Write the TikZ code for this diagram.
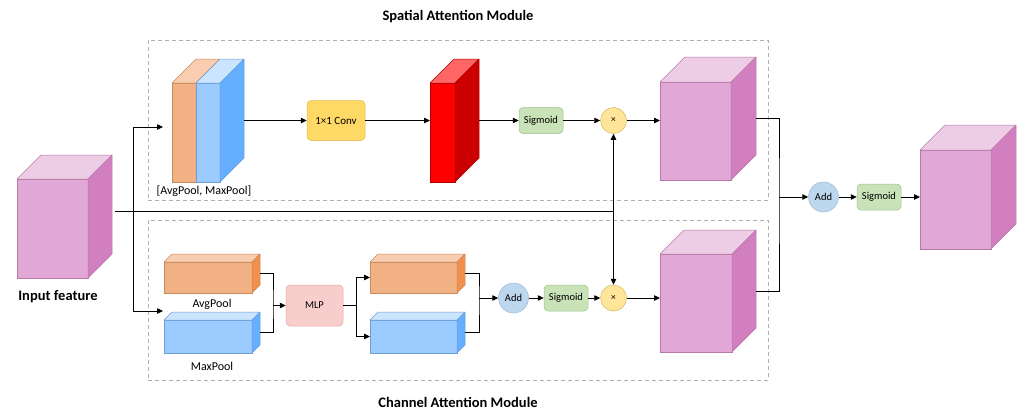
\documentclass[tikz,border=0pt]{standalone}
\usepackage{fontspec}
\setmainfont{Carlito}
\usetikzlibrary{arrows.meta}

\definecolor{pinkF}{HTML}{E1A7D6}
\definecolor{pinkS}{HTML}{D27FC0}
\definecolor{pinkT}{HTML}{EDCDE6}
\definecolor{pinkB}{HTML}{B77AA6}
\definecolor{oraF}{HTML}{F2B185}
\definecolor{oraS}{HTML}{F0904C}
\definecolor{oraT}{HTML}{F8CDB0}
\definecolor{oraB}{HTML}{C98A5E}
\definecolor{bluF}{HTML}{9CCBFF}
\definecolor{bluS}{HTML}{66AEFF}
\definecolor{bluT}{HTML}{CCE5FF}
\definecolor{bluB}{HTML}{6C9FD6}
\definecolor{redF}{HTML}{FF0000}
\definecolor{redS}{HTML}{CC0000}
\definecolor{redT}{HTML}{FF6666}
\definecolor{redB}{HTML}{B20000}
\definecolor{convF}{HTML}{FFD966}
\definecolor{convB}{HTML}{E0B850}
\definecolor{sigF}{HTML}{C9E2B8}
\definecolor{sigB}{HTML}{9CC38A}
\definecolor{mlpF}{HTML}{F8CECC}
\definecolor{mlpB}{HTML}{E6A6A6}
\definecolor{mulF}{HTML}{FFE599}
\definecolor{mulB}{HTML}{D6B656}
\definecolor{addF}{HTML}{BDD7EE}
\definecolor{addB}{HTML}{9DB9D6}
\definecolor{frame}{HTML}{B0B0B0}

% cuboid: name, centre of front face, width, height, depth, colour set
\newcommand\cuboid[6]{%
  \node[cubefront, fill=#6F, draw=#6B, minimum width=#3pt, minimum height=#4pt] (#1) at (#2) {};
  \filldraw[fill=#6T, draw=#6B, line width=.5pt, line join=round]
    (#1.north west) -- ++(#5,-#5) -- ++(#3,0) -- (#1.north east) -- cycle;
  \filldraw[fill=#6S, draw=#6B, line width=.5pt, line join=round]
    (#1.north east) -- ++(#5,-#5) -- ++(0,#4) -- (#1.south east) -- cycle;
  \coordinate (#1-r) at ([shift={(#5,-#5/2)}]#1.east);
}

\tikzset{
  cubefront/.style={line width=.5pt, inner sep=0pt, outer sep=0pt},
  lbl/.style={font=\fontsize{12}{14}\selectfont, inner sep=0pt},
  title/.style={font=\fontsize{14.5}{17}\selectfont\bfseries, inner sep=0pt},
  opbox/.style={rounded corners=4pt, line width=.5pt, inner sep=0pt,
    minimum width=44pt, minimum height=26pt, font=\fontsize{10.5}{12}\selectfont},
  sigbox/.style={opbox, fill=sigF, draw=sigB},
  mulnode/.style={circle, fill=mulF, draw=mulB, line width=.5pt, minimum size=26pt,
    inner sep=0pt, font=\fontsize{9.5}{10}\selectfont},
  addnode/.style={circle, fill=addF, draw=addB, line width=.5pt, minimum size=30pt,
    inner sep=0pt, font=\fontsize{10.5}{12}\selectfont},
  module/.style={draw=frame, dash pattern=on 4pt off 3pt, line width=.6pt,
    minimum width=620pt, minimum height=160pt, inner sep=0pt},
  link/.style={line width=.8pt, draw=black},
  arr/.style={link, -{Triangle[length=6pt, width=5.5pt]}},
}

\begin{document}
\begin{tikzpicture}[x=1pt, y=-1pt]
\useasboundingbox (0,0) rectangle (1021,410);

% module frames and titles
\node[module] (sam) at (458,120) {};
\node[module] (cam) at (458,300) {};
\node[title] (samT) at (458,17) {Spatial Attention Module};
\node[title] (camT) at (458,402) {Channel Attention Module};

% input feature map
\cuboid{in}{52.5,228.5}{71}{99}{24}{pink}
\node[title] (inT) at (58,297) {Input feature};

% spatial branch
\cuboid{cat}{184,132.5}{24}{99}{24}{ora}
\cuboid{catb}{208,132.5}{24}{99}{24}{blu}
\node[lbl] (catT) at (204,191) {[AvgPool, MaxPool]};
\node[opbox, fill=convF, draw=convB, minimum width=58pt, minimum height=40pt,
  font=\fontsize{11}{12}\selectfont] (conv) at (336,120.5) {1×1 Conv};
\cuboid{red}{442.5,132.5}{25}{99}{24}{red}
\node[sigbox] (sig1) at (541,120.5) {Sigmoid};
\node[mulnode] (mul1) at (613.5,120.5) {×};
\cuboid{outA}{695.5,131}{71}{98}{25}{pink}

% channel branch
\cuboid{avg}{208,277.5}{88}{31}{8}{ora}
\node[lbl] (avgT) at (212,304) {AvgPool};
\cuboid{max}{208,336.5}{88}{33}{8}{blu}
\node[lbl] (maxT) at (212,366) {MaxPool};
\node[opbox, fill=mlpF, draw=mlpB, minimum width=57pt, minimum height=41pt] (mlp) at (314.5,305.5) {MLP};
\cuboid{fa}{413.5,277.5}{87}{31}{8}{ora}
\cuboid{fm}{413.5,336.5}{87}{33}{8}{blu}
\node[addnode] (add2) at (513.5,298) {Add};
\node[sigbox] (sig2) at (566,298) {Sigmoid};
\node[mulnode] (mul2) at (613.5,298) {×};
\cuboid{outB}{696,303}{72}{98}{24}{pink}

% fusion
\node[addnode] (add3) at (823.5,197) {Add};
\node[sigbox] (sig3) at (879,197) {Sigmoid};
\cuboid{fin}{955.5,199.5}{71}{99}{25}{pink}

% junction points
\coordinate (src) at (115,211);
\coordinate (split) at (133,211);
\coordinate (gate) at (613.5,211);
\coordinate (topin) at (163,127);
\coordinate (botin) at (163,311);
\coordinate (mj) at (273,305.5);
\coordinate (ms) at (356,305.5);
\coordinate (aj) at (479,298);
\coordinate (rv) at (779,197);

% input distribution
\draw[link] (src) -- (gate);
\draw[arr] (split) |- (topin);
\draw[arr] (split) |- (botin);
\draw[arr] (gate) -- (mul1);
\draw[arr] (gate) -- (mul2);

% spatial flow
\draw[arr] (catb-r) -- (catb-r -| conv.west);
\draw[arr] (conv) -- (conv -| red.west);
\draw[arr] (red-r) -- (red-r -| sig1.west);
\draw[arr] (sig1) -- (mul1);
\draw[arr] (mul1) -- (mul1 -| outA.west);

% channel flow
\draw[link] (avg-r) -| (mj) |- (max-r);
\draw[arr] (mj) -- (mlp);
\draw[link] (mlp) -- (ms);
\draw[arr] (ms) |- (fa.west);
\draw[arr] (ms) |- (fm.west);
\draw[link] (fa-r) -| (aj) |- (fm-r);
\draw[arr] (aj) -- (add2);
\draw[arr] (add2) -- (sig2);
\draw[arr] (sig2) -- (mul2);
\draw[arr] (mul2) -- (mul2 -| outB.west);

% fusion flow
\draw[link] (outA-r) -| (rv) |- (outB-r);
\draw[arr] (rv) -- (add3);
\draw[arr] (add3) -- (sig3);
\draw[arr] (sig3) -- (sig3 -| fin.west);
\end{tikzpicture}
\end{document}
